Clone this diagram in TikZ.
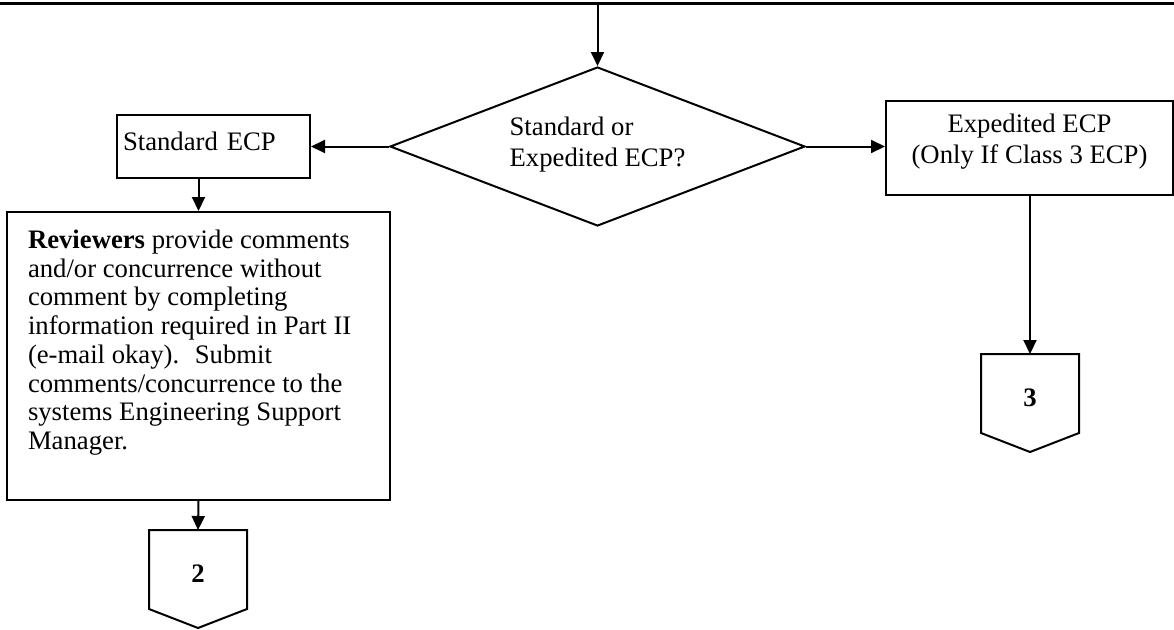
\documentclass[tikz,border=0pt]{standalone}
\usepackage{fontspec}
\setmainfont{Liberation Serif}
\usetikzlibrary{shapes.geometric,arrows.meta}

\begin{document}
\begin{tikzpicture}[x=1pt, y=-1pt, line width=2pt,
	every node/.style={font=\fontsize{26.7pt}{30.5pt}\selectfont},
	box/.style={draw, rectangle, inner sep=0pt},
	flow/.style={-{Triangle[length=14pt, width=13pt]}}]
	\useasboundingbox (0,0) rectangle (1174,629);
	\coordinate (tl) at (0,3);
	\coordinate (tr) at (1174,3);
	\draw [line width=3pt] (tl) -- (tr);
	% decision
	\node [diamond, draw, aspect=2.61, minimum width=415pt, minimum height=159pt, inner sep=0pt, align=left, text height=48.5pt, text depth=9.5pt] (choice) at (597.5,146.5) {Standard or\\Expedited ECP?};
	\node [box, minimum width=193pt, minimum height=63pt, text width=181pt, align=left, text height=18pt, text depth=11pt] (std) at (213.5,146.5) {Standard ECP};
	\node [box, minimum width=287pt, minimum height=94pt, align=center, text height=48.5pt, text depth=17.5pt] (exp) at (1029.5,147.5) {Expedited ECP\\(Only If Class 3 ECP)};
	\node [box, anchor=north west, inner xsep=21pt, inner ysep=18pt] (rev) at (6,211) {\parbox[c][252pt][t]{341pt}{\fontsize{26.7pt}{28.7pt}\selectfont\raggedright
		\textbf{Reviewers} provide comments\\
		and/or concurrence without\\
		comment by completing\\
		information required in Part II\\
		(e-mail okay).~ Submit\\
		comments/concurrence to the\\
		systems Engineering Support\\
		Manager.}};
	% off-page connectors
	\node [inner sep=0pt, minimum width=96pt, minimum height=77pt, text height=26pt, text depth=0pt] (off2) at (198,569.5) {\bfseries 2};
	\node [inner sep=0pt, minimum width=96pt, minimum height=77pt, text height=26pt, text depth=0pt] (off3) at (1030,393.5) {\bfseries 3};
	\draw (off2.north west) -- (off2.north east) -- (off2.south east) -- ([yshift=-19pt]off2.south) -- (off2.south west) -- cycle;
	\draw (off3.north west) -- (off3.north east) -- (off3.south east) -- ([yshift=-19pt]off3.south) -- (off3.south west) -- cycle;
	% arrows
	\draw [flow] (choice.north |- tl) -- (choice.north);
	\draw [flow] (choice.west) -- (choice.west -| std.east);
	\draw [flow] (choice.east) -- (choice.east -| exp.west);
	\draw [flow] (std.south -| rev.north) -- (rev.north);
	\draw [flow] (rev.south) -- (off2.north);
	\draw [flow] (exp.south -| off3.north) -- (off3.north);
\end{tikzpicture}
\end{document}
